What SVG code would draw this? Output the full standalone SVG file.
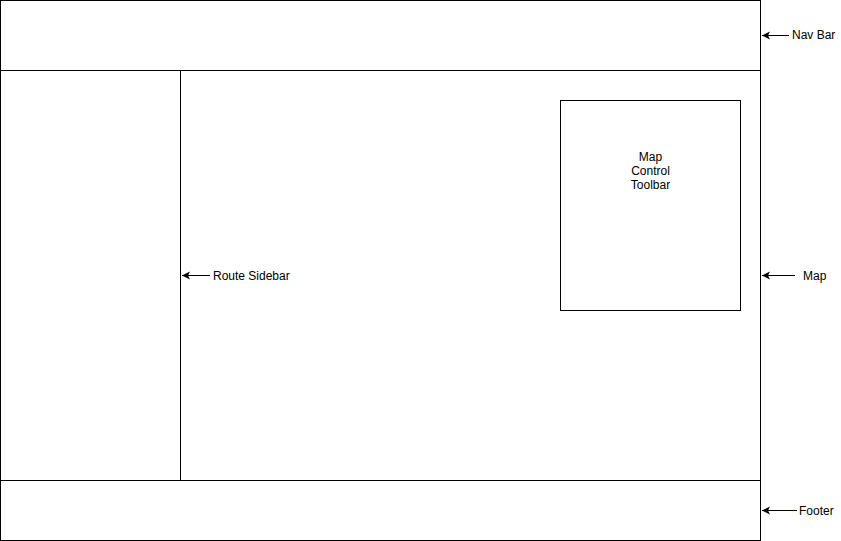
<svg xmlns="http://www.w3.org/2000/svg" width="841" height="541" viewBox="0 0 841 541">
<style>
.box{fill:#ffffff;stroke:#000000;stroke-width:1}
.lbl{font-family:"Liberation Sans",Arial,sans-serif;font-size:12px;fill:#000000}
.edge{stroke:#000000;stroke-width:1;fill:none}
</style>
<defs>
<marker id="arr" markerWidth="10" markerHeight="10" refX="8" refY="4" orient="auto" markerUnits="userSpaceOnUse">
<path d="M8,4 L0,0 L2,4 L0,8 Z" fill="#000000" stroke="none" transform="rotate(0)"/>
</marker>
</defs>
<rect width="841" height="541" fill="#ffffff"/>
<g id="navbar"><rect class="box" x="0.5" y="0.5" width="760" height="70"/></g>
<g id="map"><rect class="box" x="0.5" y="70.5" width="760" height="410"/></g>
<g id="sidebar"><rect class="box" x="0.5" y="70.5" width="180" height="410"/></g>
<g id="footer"><rect class="box" x="0.5" y="480.5" width="760" height="60"/></g>
<g id="toolbar"><rect class="box" x="560.5" y="100.5" width="180" height="210"/>
<text class="lbl" text-anchor="middle" x="650.5" y="161">Map</text>
<text class="lbl" text-anchor="middle" x="650.5" y="175">Control</text>
<text class="lbl" text-anchor="middle" x="650.5" y="189">Toolbar</text>
</g>
<g id="label-navbar"><text class="lbl" x="792" y="39">Nav Bar</text></g>
<g id="label-sidebar"><text class="lbl" x="213" y="280">Route Sidebar</text></g>
<g id="label-map"><text class="lbl" x="803" y="280">Map</text></g>
<g id="label-footer"><text class="lbl" x="799" y="515">Footer</text></g>
<g id="connectors">
<line class="edge" x1="789" y1="35.5" x2="762" y2="35.5" marker-end="url(#arr)"/>
<line class="edge" x1="210" y1="275.5" x2="182" y2="275.5" marker-end="url(#arr)"/>
<line class="edge" x1="795" y1="275.5" x2="762" y2="275.5" marker-end="url(#arr)"/>
<line class="edge" x1="797" y1="510.5" x2="762" y2="510.5" marker-end="url(#arr)"/>
</g>
</svg>
